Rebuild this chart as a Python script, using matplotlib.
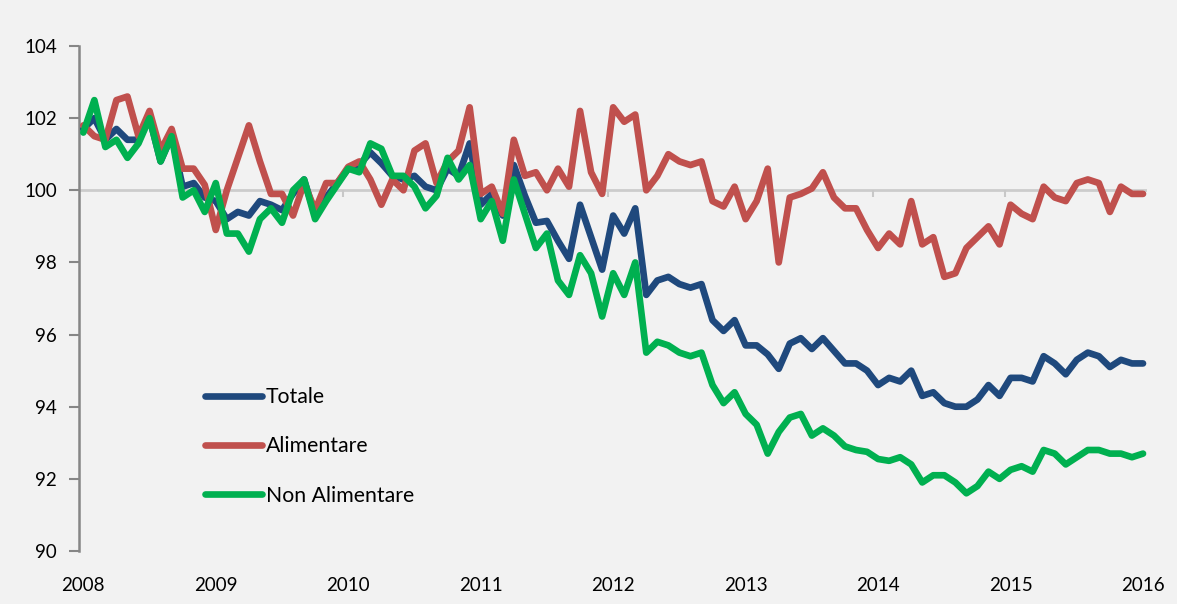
import matplotlib
matplotlib.use("Agg")
import matplotlib.pyplot as plt
import numpy as np

plt.rcParams['font.family'] = ['Lato', 'DejaVu Sans']

years = ["2008", "2009", "2010", "2011", "2012", "2013", "2014", "2015", "2016"]

totale = [
    101.7, 102.0, 101.4, 101.7, 101.4, 101.4, 102.0, 100.8, 101.5, 100.1, 100.2, 99.8,
    99.7, 99.2, 99.4, 99.3, 99.7, 99.6, 99.45, 99.9, 100.3, 99.3, 99.8, 100.2,
    100.6, 100.7, 101.05, 100.75, 100.4, 100.3, 100.4, 100.1, 100.0, 100.6, 100.4, 101.3,
    99.6, 99.9, 99.3, 100.7, 99.85, 99.1, 99.15, 98.6, 98.1, 99.6, 98.7, 97.8,
    99.3, 98.8, 99.5, 97.1, 97.5, 97.6, 97.4, 97.3, 97.4, 96.4, 96.1, 96.4,
    95.7, 95.7, 95.45, 95.05, 95.75, 95.9, 95.6, 95.9, 95.55, 95.2, 95.2, 95.0,
    94.6, 94.8, 94.7, 95.0, 94.3, 94.4, 94.1, 94.0, 94.0, 94.2, 94.6, 94.3,
    94.8, 94.8, 94.7, 95.4, 95.2, 94.9, 95.3, 95.5, 95.4, 95.1, 95.3, 95.2,
    95.2,
]

alimentare = [
    101.8, 101.5, 101.4, 102.5, 102.6, 101.5, 102.2, 101.1, 101.7, 100.6, 100.6, 100.15,
    98.9, 100.0, 100.9, 101.8, 100.8, 99.9, 99.9, 99.3, 100.2, 99.45, 100.2, 100.2,
    100.65, 100.8, 100.3, 99.6, 100.3, 100.0, 101.1, 101.3, 100.2, 100.8, 101.1, 102.3,
    99.9, 100.1, 99.35, 101.4, 100.4, 100.5, 100.0, 100.6, 100.1, 102.2, 100.5, 99.9,
    102.3, 101.9, 102.1, 100.0, 100.4, 101.0, 100.8, 100.7, 100.8, 99.7, 99.55, 100.1,
    99.2, 99.7, 100.6, 98.0, 99.8, 99.9, 100.05, 100.5, 99.8, 99.5, 99.5, 98.9,
    98.4, 98.8, 98.5, 99.7, 98.5, 98.7, 97.6, 97.7, 98.4, 98.7, 99.0, 98.5,
    99.6, 99.35, 99.2, 100.1, 99.8, 99.7, 100.2, 100.3, 100.2, 99.4, 100.1, 99.9,
    99.9,
]

non_alimentare = [
    101.6, 102.5, 101.2, 101.4, 100.9, 101.3, 102.0, 100.8, 101.5, 99.8, 100.0, 99.4,
    100.2, 98.8, 98.8, 98.3, 99.2, 99.5, 99.1, 100.0, 100.3, 99.2, 99.7, 100.15,
    100.6, 100.5, 101.3, 101.15, 100.4, 100.4, 100.1, 99.5, 99.85, 100.9, 100.3, 100.7,
    99.2, 99.7, 98.6, 100.3, 99.35, 98.4, 98.8, 97.5, 97.1, 98.2, 97.7, 96.5,
    97.7, 97.1, 98.0, 95.5, 95.8, 95.7, 95.5, 95.4, 95.5, 94.6, 94.1, 94.4,
    93.8, 93.5, 92.7, 93.3, 93.7, 93.8, 93.2, 93.4, 93.2, 92.9, 92.8, 92.75,
    92.55, 92.5, 92.6, 92.4, 91.9, 92.1, 92.1, 91.9, 91.6, 91.8, 92.2, 92.0,
    92.25, 92.35, 92.2, 92.8, 92.7, 92.4, 92.6, 92.8, 92.8, 92.7, 92.7, 92.6,
    92.7,
]

series_names = ["Totale", "Alimentare", "Non Alimentare"]
colors = ["#1f497d", "#c0504d", "#00b050"]

bg = "#f2f2f2"
fig = plt.figure(figsize=(11.77, 6.04), dpi=100, facecolor=bg)
ax = fig.add_axes([79 / 1177, 53 / 604, 1068 / 1177, 505 / 604], facecolor=bg)

# category axis crossing at 100, with its small tick marks between years
cross = 100
ax.axhline(cross, color="#cccccc", lw=2, zorder=1)
ax.vlines(np.arange(11.5, 97, 12), cross - 0.18, cross, color="#c8c8c8", lw=1.5, zorder=1)

x = np.arange(len(totale))
for vals, name, c in zip([totale, alimentare, non_alimentare], series_names, colors):
    ax.plot(x, vals, color=c, lw=4.8, label=name, zorder=3,
            solid_joinstyle="round", solid_capstyle="round")

ax.set_xlim(-0.39, 96.36)
ax.set_ylim(90, 104)
ax.set_yticks(np.arange(90, 105, 2))
ax.set_yticklabels([str(v) for v in range(90, 105, 2)], fontsize=13.5, color="#000000")
ax.tick_params(axis="y", direction="out", length=7, width=1.5, color="#868686", pad=9)

ax.set_xticks(np.arange(0, 97, 12))
ax.set_xticklabels(years, fontsize=13.5, color="#000000")
ax.tick_params(axis="x", length=0, pad=19)

for s in ["top", "right", "bottom"]:
    ax.spines[s].set_visible(False)
ax.spines["left"].set_color("#868686")
ax.spines["left"].set_linewidth(1.8)

leg = ax.legend(loc="upper left", bbox_to_anchor=((205 - 79) / 1068, (551 - 387) / 505),
                frameon=False, fontsize=15.3, handlelength=2.7, handletextpad=0.15,
                labelspacing=1.38, borderpad=0, borderaxespad=0)

fig.savefig("out.png", dpi=100, facecolor=bg)
